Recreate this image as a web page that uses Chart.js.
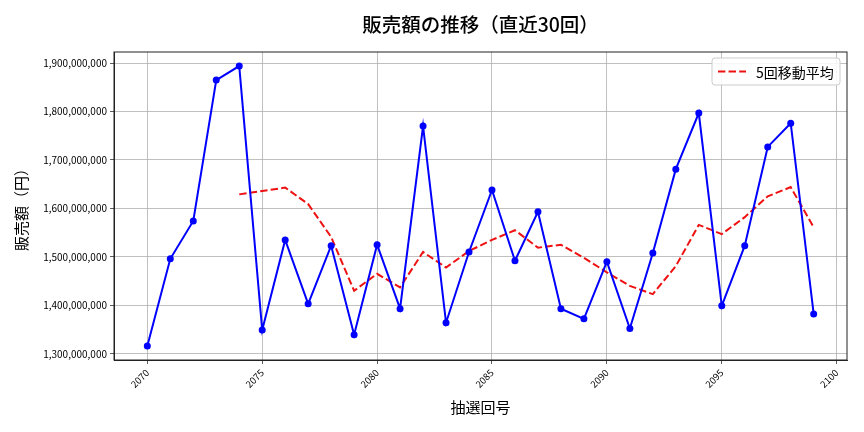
<!DOCTYPE html>
<html>
<head>
<meta charset="utf-8">
<script src="https://cdn.jsdelivr.net/npm/chart.js@4.4.1/dist/chart.umd.min.js"></script>
<style>
  html, body { margin: 0; padding: 0; background: #fff; }
  #wrap { width: 864px; height: 432px; }
</style>
</head>
<body>
<div id="wrap"><canvas id="chart" width="864" height="432"></canvas></div>
<script>
// 抽選回号
const rounds = [2070, 2071, 2072, 2073, 2074, 2075, 2076, 2077, 2078, 2079,
  2080, 2081, 2082, 2083, 2084, 2085, 2086, 2087, 2088, 2089,
  2090, 2091, 2092, 2093, 2094, 2095, 2096, 2097, 2098, 2099];
// 販売額（円）
const sales = [1316e6, 1496e6, 1574e6, 1865e6, 1894e6, 1349e6, 1535e6, 1403e6, 1523e6, 1339e6,
  1525e6, 1393e6, 1770e6, 1364e6, 1510e6, 1638e6, 1492e6, 1593e6, 1393e6, 1372e6,
  1490e6, 1352e6, 1508e6, 1681e6, 1797e6, 1399e6, 1523e6, 1727e6, 1776e6, 1382e6];
// 5回移動平均
const movingAvg = [null, null, null, null, 1629e6, 1636e6, 1643e6, 1609e6, 1541e6, 1430e6,
  1465e6, 1437e6, 1510e6, 1478e6, 1512e6, 1535e6, 1555e6, 1519e6, 1525e6, 1498e6,
  1468e6, 1440e6, 1423e6, 1481e6, 1566e6, 1547e6, 1582e6, 1625e6, 1644e6, 1561e6];
const xTicks = [2070, 2075, 2080, 2085, 2090, 2095, 2100];
const yTicks = [1300e6, 1400e6, 1500e6, 1600e6, 1700e6, 1800e6, 1900e6];

const FONT = "'Noto Sans CJK JP', 'Noto Sans', sans-serif";

const frame = {
  id: "frame",
  afterDraw(chart) {
    const { ctx, chartArea: a } = chart;
    ctx.save();
    ctx.strokeStyle = "#222";
    ctx.lineWidth = 1;
    ctx.strokeRect(a.left, a.top, a.right - a.left, a.bottom - a.top);

    // title
    ctx.fillStyle = "#000";
    ctx.font = "500 19.5px " + FONT;
    ctx.textAlign = "center";
    ctx.textBaseline = "middle";
    ctx.fillText("販売額の推移（直近30回）", (a.left + a.right) / 2, 25);

    // legend
    const ds = chart.data.datasets[1];
    const bw = 128, bh = 27;
    const bx = a.right - bw - 7, by = a.top + 6;
    ctx.fillStyle = "rgba(255,255,255,0.85)";
    ctx.strokeStyle = "#ccc";
    ctx.beginPath();
    ctx.roundRect(bx, by, bw, bh, 3);
    ctx.fill();
    ctx.stroke();
    ctx.strokeStyle = ds.borderColor;
    ctx.lineWidth = 2;
    ctx.setLineDash([7.4, 3.2]);
    ctx.beginPath();
    ctx.moveTo(bx + 6, by + bh / 2);
    ctx.lineTo(bx + 34, by + bh / 2);
    ctx.stroke();
    ctx.setLineDash([]);
    ctx.fillStyle = "#000";
    ctx.font = "14px " + FONT;
    ctx.textAlign = "left";
    ctx.fillText(ds.label, bx + 44, by + bh / 2 + 1);
    ctx.restore();
  }
};

new Chart(document.getElementById("chart"), {
  type: "line",
  data: {
    datasets: [
      {
        label: "販売額",
        data: rounds.map((r, i) => ({ x: r, y: sales[i] })),
        borderColor: "#0000ff",
        backgroundColor: "#0000ff",
        borderWidth: 2,
        pointRadius: 3.5,
        pointBorderWidth: 0,
        tension: 0,
      },
      {
        label: "5回移動平均",
        data: rounds.map((r, i) => ({ x: r, y: movingAvg[i] })),
        borderColor: "#ee1111",
        backgroundColor: "#ee1111",
        borderWidth: 2,
        borderDash: [7.4, 3.2],
        pointRadius: 0,
        spanGaps: false,
        tension: 0,
      },
    ],
  },
  options: {
    responsive: false,
    animation: false,
    layout: { padding: { top: 52, right: 17, left: 0, bottom: 0 } },
    plugins: {
      legend: { display: false },
      title: { display: false },
      tooltip: { enabled: false },
    },
    scales: {
      x: {
        type: "linear",
        min: 2068.55,
        max: 2100.45,
        afterBuildTicks: (s) => { s.ticks = xTicks.map(v => ({ value: v })); },
        afterFit: (s) => { s.height = 72; },
        ticks: {
          minRotation: 45,
          maxRotation: 45,
          color: "#000",
          font: { family: FONT, size: 9.5 },
          callback: (v) => String(v),
        },
        grid: { color: "#b0b0b0", lineWidth: 0.8, tickLength: 4, tickColor: "#333" },
        border: { color: "#222", width: 1 },
        title: {
          display: true,
          text: "抽選回号",
          color: "#000",
          font: { family: FONT, size: 15 },
          padding: { top: 0, bottom: 16 },
        },
      },
      y: {
        type: "linear",
        min: 1287e6,
        max: 1923e6,
        afterBuildTicks: (s) => { s.ticks = yTicks.map(v => ({ value: v })); },
        afterFit: (s) => { s.width = 114; },
        ticks: {
          color: "#000",
          font: { family: FONT, size: 10 },
          padding: 3,
          callback: (v) => Number(v).toLocaleString("en-US"),
        },
        grid: { color: "#b0b0b0", lineWidth: 0.8, tickLength: 4, tickColor: "#333" },
        border: { color: "#222", width: 1 },
        title: {
          display: true,
          text: "販売額（円）",
          color: "#000",
          font: { family: FONT, size: 15 },
          padding: { top: 12, bottom: 0 },
        },
      },
    },
  },
  plugins: [frame],
});
</script>
</body>
</html>
